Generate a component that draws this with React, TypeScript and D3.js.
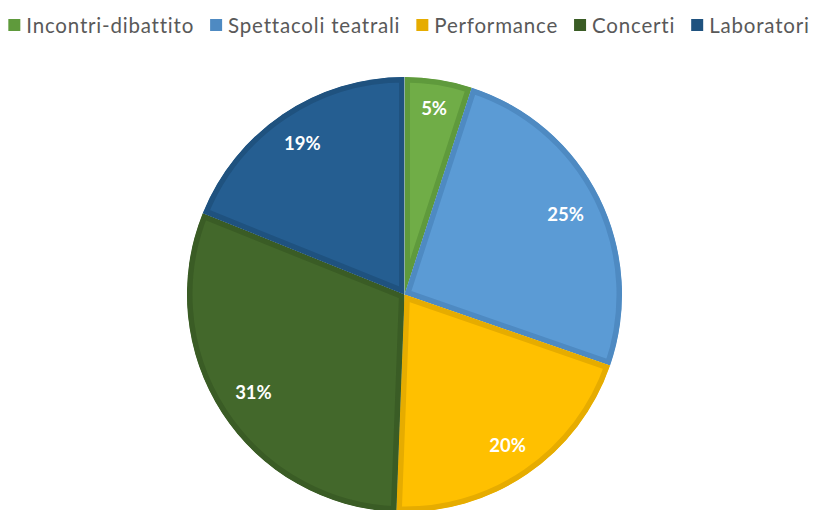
import React, { useEffect, useRef } from "react";
import * as d3 from "d3";

const categories = ["Incontri-dibattito", "Spettacoli teatrali", "Performance", "Concerti", "Laboratori"];
const values = [5.0, 25.3, 20.3, 30.5, 18.9];
const fills = ["#70AD47", "#5B9BD5", "#FFC000", "#43682B", "#255E91"];
const borders = ["#5F9A3C", "#4E8AC2", "#E6AC00", "#3A5C25", "#1F527F"];

const W = 813;
const H = 510;

export default function App() {
  const ref = useRef<SVGSVGElement | null>(null);
  useEffect(() => {
    const svg = d3.select(ref.current);
    svg.selectAll("*").remove();
    const cx = 404.5, cy = 294.5, R = 217.5;
    const total = d3.sum(values);
    const pie = d3.pie<number>().sort(null).value((d) => d);
    const arcs = pie(values);
    const arc = d3.arc<d3.PieArcDatum<number>>().innerRadius(0).outerRadius(R);
    const defs = svg.append("defs");
    const g = svg.append("g").attr("transform", `translate(${cx},${cy})`);
    arcs.forEach((a, i) => {
      defs.append("clipPath").attr("id", `clip${i}`).append("path").attr("d", arc(a) as string);
      g.append("path")
        .attr("d", arc(a) as string)
        .attr("fill", fills[i])
        .attr("stroke", borders[i])
        .attr("stroke-width", 11)
        .attr("stroke-linejoin", "miter")
        .attr("clip-path", `url(#clip${i})`);
    });
    // labels
    const lw = [26, 36, 36, 36, 36];
    const lh = 18;
    arcs.forEach((a, i) => {
      const th = (a.startAngle + a.endAngle) / 2;
      const ext = Math.abs((lw[i] / 2) * Math.sin(th)) + Math.abs((lh / 2) * Math.cos(th));
      const r = 200 - ext;
      const x = r * Math.sin(th);
      const y = -r * Math.cos(th);
      g.append("text")
        .attr("x", x)
        .attr("y", y)
        .attr("text-anchor", "middle")
        .attr("dominant-baseline", "central")
        .attr("fill", "#FFFFFF")
        .attr("font-family", "Lato, 'Open Sans', sans-serif")
        .attr("font-weight", "bold")
        .attr("font-size", 18.5)
        .text(`${Math.round((values[i] / total) * 100)}%`);
    });
    // legend
    const leg = svg.append("g");
    const sq = 12, gap = 6, itemGap = 16;
    let x = 0;
    categories.forEach((c, i) => {
      const t = leg.append("text")
        .attr("font-family", "Lato, 'Open Sans', sans-serif")
        .attr("font-size", 20.5)
        .attr("letter-spacing", 0.8)
        .attr("fill", "#595959")
        .attr("y", 33)
        .text(c);
      const w = (t.node() as SVGTextElement).getComputedTextLength();
      t.attr("x", x + sq + gap);
      leg.append("rect").attr("x", x).attr("y", 19).attr("width", sq).attr("height", sq).attr("fill", borders[i]);
      x += sq + gap + w + itemGap;
    });
    const totalW = x - itemGap;
    leg.attr("transform", `translate(${409 - totalW / 2},0)`);
  }, []);
  return (
    <svg ref={ref} width={W} height={H} style={{ position: "absolute", left: 0, top: 0, display: "block", background: "#fff" }} />
  );
}
